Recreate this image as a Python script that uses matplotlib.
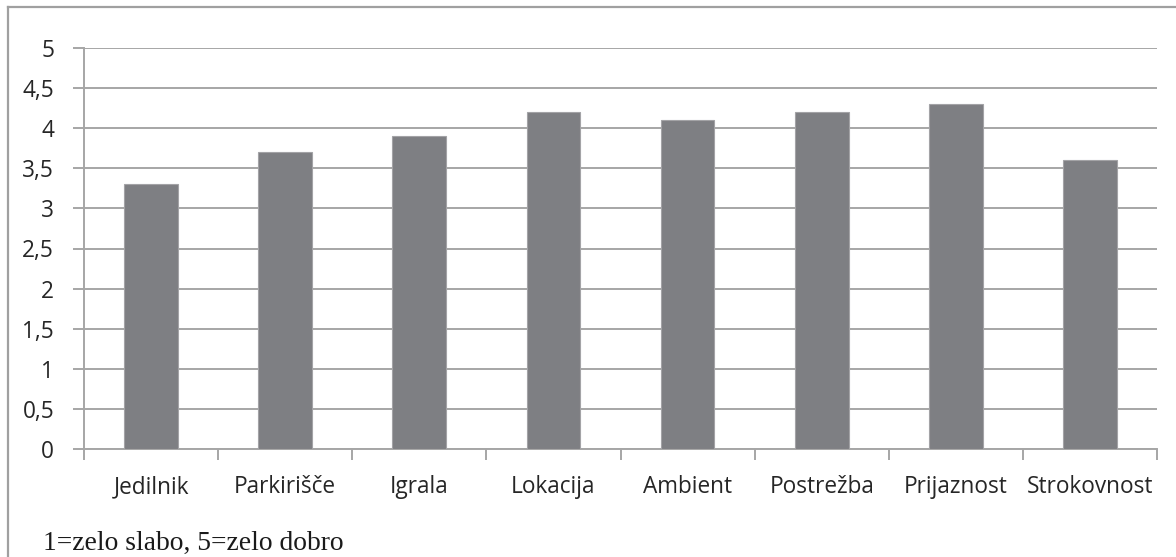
import matplotlib
matplotlib.use("Agg")
import matplotlib.pyplot as plt
from matplotlib.lines import Line2D
import numpy as np

categories = ["Jedilnik", "Parkirišče", "Igrala", "Lokacija", "Ambient",
              "Postrežba", "Prijaznost", "Strokovnost"]
scores = [3.3, 3.7, 3.9, 4.2, 4.1, 4.2, 4.3, 3.6]
y_ticks = [0, 0.5, 1, 1.5, 2, 2.5, 3, 3.5, 4, 4.5, 5]
y_tick_labels = ["0", "0,5", "1", "1,5", "2", "2,5", "3", "3,5", "4", "4,5", "5"]
footnote = "1=zelo slabo, 5=zelo dobro"

W, H = 1176, 557
fig = plt.figure(figsize=(W / 100, H / 100), dpi=100)
fig.patch.set_facecolor("white")

grid_c = "#a6a6a6"
ax = fig.add_axes([84 / W, 1 - 449 / H, (1157 - 84) / W, (449 - 48) / H])

x = np.arange(len(categories))
ax.bar(x, scores, width=0.4, color="#7e7f83", edgecolor="#a3a3a6",
       linewidth=0.8, zorder=3)

ax.set_xlim(-0.5, len(categories) - 0.5)
ax.set_ylim(0, 5)
ax.set_yticks(y_ticks)
ax.set_yticklabels(y_tick_labels)
ax.yaxis.grid(True, color=grid_c, linewidth=1.4, zorder=0)
ax.set_axisbelow(True)

ax.set_xticks(x)
ax.set_xticklabels(categories)
ax.set_xticks(np.arange(len(categories) + 1) - 0.5, minor=True)
ax.tick_params(axis="x", which="major", length=0, pad=19)
ax.tick_params(axis="x", which="minor", length=8, width=1.4, color=grid_c)
ax.tick_params(axis="y", length=8, width=1.4, color=grid_c, pad=13.5)

for lab in ax.get_xticklabels() + ax.get_yticklabels():
    lab.set_fontfamily("Open Sans")
    lab.set_fontsize(16.3)
    lab.set_color("#262626")

for s in ("top", "right"):
    ax.spines[s].set_visible(False)
for s in ("left", "bottom"):
    ax.spines[s].set_color(grid_c)
    ax.spines[s].set_linewidth(1.4)

# outer chart frame
fig.add_artist(Line2D([8 / W, 8 / W], [0, 1 - 7 / H], transform=fig.transFigure,
                      color="#a0a0a0", linewidth=1.6))
fig.add_artist(Line2D([8 / W, 1], [1 - 7 / H, 1 - 7 / H], transform=fig.transFigure,
                      color="#a0a0a0", linewidth=1.6))

fig.text(43 / W, 1 - 543 / H, footnote, fontfamily="Liberation Serif",
         fontsize=19.8, color="#1a1a1a", va="center", ha="left")

fig.savefig("out.png", dpi=100)
